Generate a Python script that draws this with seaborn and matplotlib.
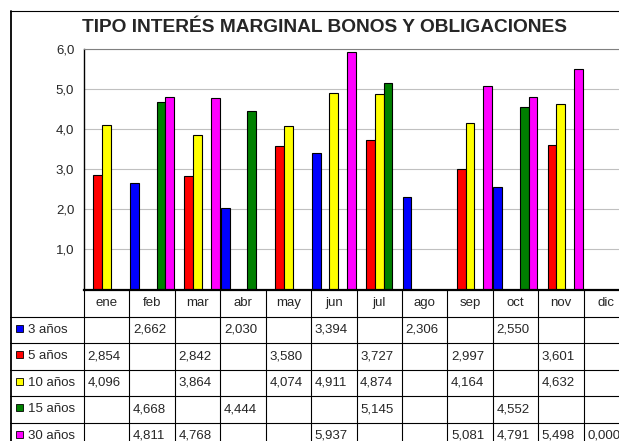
import numpy as np
import pandas as pd
import matplotlib
matplotlib.use("Agg")
import matplotlib.pyplot as plt
import matplotlib.transforms as mtransforms
from matplotlib.patches import Rectangle
import seaborn as sns

sns.set_style("white")
plt.rcParams['font.family'] = ['Liberation Sans', 'DejaVu Sans']

# ---------------- DATA ---------------- #
meses = ["ene", "feb", "mar", "abr", "may", "jun", "jul", "ago", "sep", "oct", "nov", "dic"]
series = ["3 años", "5 años", "10 años", "15 años", "30 años"]
colores = ["#0000FF", "#FF0000", "#FFFF00", "#008000", "#FF00FF"]
nan = np.nan
tres_anos = [nan, 2.662, nan, 2.030, nan, 3.394, nan, 2.306, nan, 2.550, nan, nan]
cinco_anos = [2.854, nan, 2.842, nan, 3.580, nan, 3.727, nan, 2.997, nan, 3.601, nan]
diez_anos = [4.096, nan, 3.864, nan, 4.074, 4.911, 4.874, nan, 4.164, nan, 4.632, nan]
quince_anos = [nan, 4.668, nan, 4.444, nan, nan, 5.145, nan, nan, 4.552, nan, nan]
treinta_anos = [nan, 4.811, 4.768, nan, nan, 5.937, nan, nan, 5.081, 4.791, 5.498, 0.000]
titulo = "TIPO INTERÉS MARGINAL BONOS Y OBLIGACIONES"

valores = [tres_anos, cinco_anos, diez_anos, quince_anos, treinta_anos]
df = pd.DataFrame({"mes": meses * len(series),
                   "serie": [s for s in series for _ in meses],
                   "tipo": [v for fila in valores for v in fila]}).dropna()

# ---------------- FIGURE ---------------- #
W, H = 619, 441
fig = plt.figure(figsize=(W / 100, H / 100), dpi=100)
fx = lambda px: px / W
fy = lambda py: 1 - py / H

x0, x1, ytop, ybot = 84, 629, 49, 289.5
ax = fig.add_axes([fx(x0), fy(ybot), fx(x1 - x0), fy(ytop) - fy(ybot)])

sns.barplot(data=df, x="mes", y="tipo", hue="serie", order=meses, hue_order=series,
            palette=colores, saturation=1, width=0.97, errorbar=None, edgecolor="black",
            linewidth=0.8, legend=False, ax=ax)

ax.set_xlim(-0.5, len(meses) - 0.5)
ax.set_ylim(0, 6)
ax.set_yticks(range(1, 7))
ax.set_yticklabels([f"{v},0" for v in range(1, 7)], fontsize=9.5)
ax.tick_params(axis="y", length=0, pad=7)
ax.set_xticks([])
ax.set_xlabel("")
ax.set_ylabel("")
ax.grid(axis="y", color="#C0C0C0", lw=0.8)
ax.set_axisbelow(True)
ax.spines["right"].set_visible(False)
ax.spines["top"].set_color("#808080")
ax.spines["top"].set_linewidth(0.8)
ax.spines["left"].set_color("black")
ax.spines["left"].set_linewidth(1.0)
ax.spines["bottom"].set_color("black")
ax.spines["bottom"].set_linewidth(1.6)

fig.text(fx(324), fy(28), titulo, ha="center", va="center", fontsize=13.8, fontweight="bold")

# ---------------- DATA TABLE ---------------- #
blend = mtransforms.blended_transform_factory(ax.transData, fig.transFigure)
row0, row_h = 316.7, 26.5
lw = 0.8
fs = 9.5

def hline(py, xa, xb):
    fig.add_artist(plt.Line2D([fx(xa), fx(xb)], [fy(py), fy(py)], color="black", lw=lw))

# outer border
fig.add_artist(plt.Line2D([fx(10.5), fx(10.5)], [fy(11), fy(H + 5)], color="black", lw=1.3))
hline(11, 10, W + 5)

# column separators
for k in range(len(meses) + 1):
    fig.add_artist(plt.Line2D([k - 0.5, k - 0.5], [fy(ybot), fy(H + 5)],
                              transform=blend, color="black", lw=lw))
for i in range(len(series) + 1):
    hline(row0 + row_h * i, 10, W + 5)

# header
for k, m in enumerate(meses):
    fig.text(k, fy((ybot + row0) / 2), m, transform=blend, ha="center", va="center", fontsize=fs)

# rows
for i, (s, c, fila) in enumerate(zip(series, colores, valores)):
    yc = fy(row0 + row_h * (i + 0.5))
    yt = fy(row0 + row_h * (i + 0.5) - 1.5)
    fig.add_artist(Rectangle((fx(15.5), yt - 3.5 / H), 7 / W, 7 / H, facecolor=c,
                             edgecolor="black", lw=0.6, transform=fig.transFigure))
    fig.text(fx(27.5), yt, s, ha="left", va="center_baseline", fontsize=fs)
    for k, v in enumerate(fila):
        if not np.isnan(v):
            fig.text(k - 0.5 + 0.08, yt, f"{v:.3f}".replace(".", ","), transform=blend,
                     ha="left", va="center_baseline", fontsize=fs)

fig.savefig("out.png", dpi=100)
